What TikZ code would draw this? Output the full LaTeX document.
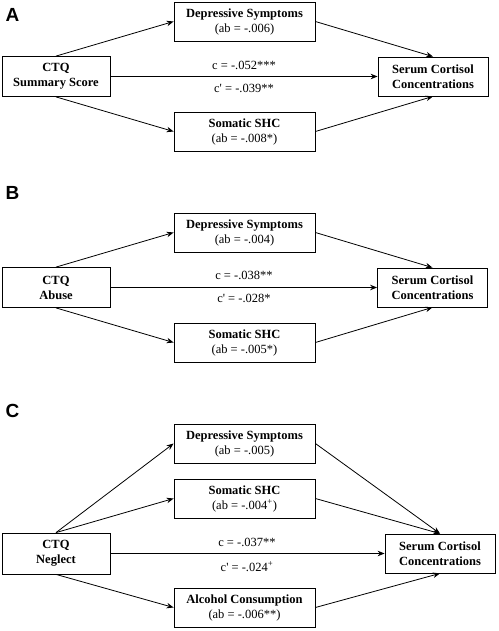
\documentclass[tikz,border=0pt]{standalone}
\usepackage{fontspec}
\setmainfont{Liberation Serif}
\newfontfamily\lblfont{Liberation Sans}
\usetikzlibrary{arrows.meta}
\begin{document}
\begin{tikzpicture}[x=1pt,y=-1pt,
  box/.style={draw, line width=0.8pt, inner sep=0pt, align=center,
              font=\fontsize{12.5}{15}\selectfont},
  med/.style={box, minimum width=141pt, minimum height=39pt},
  src/.style={box, minimum width=108pt, minimum height=40pt},
  dst/.style={box, minimum width=110pt, minimum height=39pt},
  arr/.style={-{Stealth[length=7pt,width=5.5pt]}, line width=0.8pt},
  lab/.style={font=\lblfont\bfseries\fontsize{19}{19}\selectfont},
  coef/.style={font=\fontsize{12.5}{15}\selectfont, inner sep=0pt}]
\useasboundingbox (0,0) rectangle (498,631);

% ---------- Panel A ----------
\node[lab] (labA) at (12.5,15) {A};
\node[med] (dA) at (244.5,21.5) {\textbf{Depressive Symptoms}\\(ab = -.006)};
\node[src] (ctqA) at (56,76.5) {\textbf{CTQ}\\\textbf{Summary Score}};
\node[dst] (serA) at (433,76.5) {\textbf{Serum Cortisol}\\\textbf{Concentrations}};
\node[med] (sA) at (244.5,131.5) {\textbf{Somatic SHC}\\(ab = -.008*)};
\node[coef] (cA) at (244,65) {c = -.052***};
\node[coef] (cpA) at (244,88) {c\textquotesingle{} = -.039**};
\draw[arr] (ctqA.north) -- (dA.west);
\draw[arr] (dA.east) -- (serA.north);
\draw[arr] (ctqA.south) -- (sA.west);
\draw[arr] (sA.east) -- (serA.south);
\draw[arr] (ctqA.east) -- (serA.west);

% ---------- Panel B ----------
\node[lab] (labB) at (12.5,193) {B};
\node[med] (dB) at (244.5,232.5) {\textbf{Depressive Symptoms}\\(ab = -.004)};
\node[src] (ctqB) at (56,287.5) {\textbf{CTQ}\\\textbf{Abuse}};
\node[dst] (serB) at (432.5,287.5) {\textbf{Serum Cortisol}\\\textbf{Concentrations}};
\node[med] (sB) at (244.5,342.5) {\textbf{Somatic SHC}\\(ab = -.005*)};
\node[coef] (cB) at (244,275.5) {c = -.038**};
\node[coef] (cpB) at (244,298.5) {c\textquotesingle{} = -.028*};
\draw[arr] (ctqB.north) -- (dB.west);
\draw[arr] (dB.east) -- (serB.north);
\draw[arr] (ctqB.south) -- (sB.west);
\draw[arr] (sB.east) -- (serB.south);
\draw[arr] (ctqB.east) -- (serB.west);

% ---------- Panel C ----------
\node[lab] (labC) at (12.5,411) {C};
\node[med] (dC) at (244.5,443.5) {\textbf{Depressive Symptoms}\\(ab = -.005)};
\node[med] (sC) at (244.5,498.5) {\textbf{Somatic SHC}\\(ab = -.004\textsuperscript{+})};
\node[src, minimum height=41pt] (ctqC) at (56,553.5) {\textbf{CTQ}\\\textbf{Neglect}};
\node[dst] (serC) at (440,553.5) {\textbf{Serum Cortisol}\\\textbf{Concentrations}};
\node[med] (aC) at (244.5,607.5) {\textbf{Alcohol Consumption}\\(ab = -.006**)};
\node[coef] (cC) at (247,542) {c = -.037**};
\node[coef] (cpC) at (247,566.5) {c\textquotesingle{} = -.024\textsuperscript{+}};
\draw[arr] (ctqC.north) -- (dC.west);
\draw[arr] (ctqC.north) -- (sC.west);
\draw[arr] (dC.east) -- (serC.north);
\draw[arr] (sC.east) -- (serC.north);
\draw[arr] (ctqC.south) -- (aC.west);
\draw[arr] (aC.east) -- (serC.south);
\draw[arr] (ctqC.east) -- (serC.west);
\end{tikzpicture}
\end{document}
